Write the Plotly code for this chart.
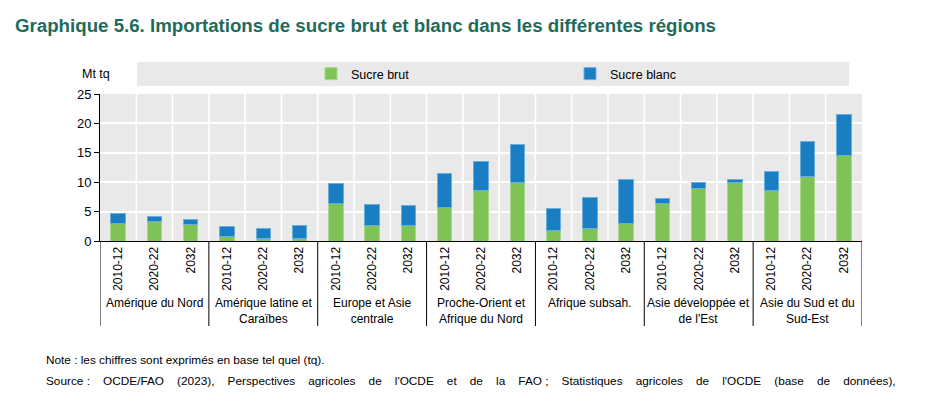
import plotly.graph_objects as go

regions = ["Amérique du Nord", "Amérique latine et<br>Caraïbes", "Europe et Asie<br>centrale",
           "Proche-Orient et<br>Afrique du Nord", "Afrique subsah.", "Asie développée et<br>de l'Est",
           "Asie du Sud et du<br>Sud-Est"]
periods = ["2010-12", "2020-22", "2032"]

sucre_brut = [2.95, 3.3, 2.8,
              0.85, 0.4, 0.5,
              6.4, 2.6, 2.6,
              5.7, 8.6, 9.9,
              1.75, 2.1, 2.9,
              6.4, 8.9, 9.95,
              8.6, 11.0, 14.5]
total = [4.6, 4.1, 3.6,
         2.4, 2.2, 2.7,
         9.7, 6.25, 6.1,
         11.5, 13.6, 16.4,
         5.5, 7.45, 10.5,
         7.15, 9.9, 10.5,
         11.9, 17.0, 21.5]
sucre_blanc = [round(t - b, 2) for t, b in zip(total, sucre_brut)]

n = len(sucre_brut)
xs = list(range(n))
ticktext = [periods[i % 3] for i in range(n)]

FONT = "Liberation Sans, Arial, sans-serif"
GREEN = "#7fc356"
BLUE = "#1a7ec2"
NB = "\u00a0"

# page body adds an 8px offset; work in figure pixels
OFF = 8
W, H = 945 - OFF, 395 - OFF
PT, PB, PL, PR = 94 - OFF, 241 - OFF, 100 - OFF, 862 - OFF
PH, PW = PB - PT, PR - PL

def py(ypix):
    return (PB - (ypix - OFF)) / PH

def px(xpix):
    return ((xpix - OFF) - PL) / PW

fig = go.Figure()
fig.add_trace(go.Bar(x=xs, y=sucre_brut, name="Sucre brut",
                     marker=dict(color=GREEN, line=dict(color="#a9d98c", width=1))))
fig.add_trace(go.Bar(x=xs, y=sucre_blanc, name="Sucre blanc",
                     marker=dict(color=BLUE, line=dict(color="#6aaee0", width=1))))

shapes = []
shapes.append(dict(type="rect", xref="paper", yref="paper", x0=px(137), x1=px(849),
                   y0=py(86), y1=py(62), fillcolor="#e9e9e9", line=dict(width=0), layer="below"))
for i in range(n - 1):
    shapes.append(dict(type="line", xref="x", yref="y", x0=i + 0.5, x1=i + 0.5, y0=0, y1=25,
                       line=dict(color="white", width=1.5), layer="below"))
for g in range(len(regions) + 1):
    xv = g * 3 - 0.5
    shapes.append(dict(type="line", xref="x", yref="paper", x0=xv, x1=xv, y0=0, y1=py(326),
                       line=dict(color="black", width=1)))

annotations = []
for g, r in enumerate(regions):
    annotations.append(dict(x=g * 3 + 1, y=py(294), xref="x", yref="paper", text=r, showarrow=False,
                            yanchor="top", font=dict(size=12, color="black", family=FONT)))
annotations.append(dict(x=px(80), xanchor="left", y=py(74), yanchor="middle", xref="paper", yref="paper",
                        text="Mt tq", showarrow=False, font=dict(size=12.5, color="black", family=FONT)))
annotations.append(dict(x=px(44), xanchor="left", y=py(360), yanchor="middle", xref="paper", yref="paper",
                        text="Note : les chiffres sont exprimés en base tel quel (tq).", showarrow=False,
                        font=dict(size=11.8, color="black", family=FONT)))
src_words = ["Source :", "OCDE/FAO", "(2023),", "Perspectives", "agricoles", "de", "l'OCDE", "et", "de", "la",
             "FAO ;", "Statistiques", "agricoles", "de", "l'OCDE", "(base", "de", "données),"]
src = (NB * 4).join(w.replace(" ", NB) for w in src_words)
annotations.append(dict(x=px(44), xanchor="left", y=py(381), yanchor="middle", xref="paper", yref="paper",
                        text=src, showarrow=False, font=dict(size=11.8, color="black", family=FONT)))

fig.update_layout(
    barmode="stack",
    bargap=0.6,
    width=W, height=H,
    margin=dict(l=PL, r=W - PR, t=PT, b=H - PB, autoexpand=False),
    paper_bgcolor="white",
    plot_bgcolor="#e9e9e9",
    font=dict(family=FONT, size=12, color="black"),
    title=dict(text="<b>Graphique 5.6. Importations de sucre brut et blanc dans les différentes régions</b>",
               x=(15 - OFF) / W, xanchor="left", xref="container", y=1 - (25 - OFF) / H, yanchor="middle",
               yref="container", font=dict(size=18.7, color="#1e6b5c", family=FONT)),
    shapes=shapes,
    annotations=annotations,
    legend=dict(orientation="h", traceorder="normal", x=px(311), xanchor="left", y=py(74), yanchor="middle",
                bgcolor="rgba(0,0,0,0)", entrywidth=214, entrywidthmode="pixels",
                font=dict(size=12.5, family=FONT), itemclick=False),
    xaxis=dict(range=[-0.5, n - 0.5], tickvals=xs, ticktext=ticktext, tickangle=-90, showgrid=False,
               showline=True, linecolor="black", linewidth=1, ticks="", zeroline=False,
               tickfont=dict(size=12, family=FONT), fixedrange=True),
    yaxis=dict(range=[0, 25], tickvals=[0, 5, 10, 15, 20, 25], showgrid=True, gridcolor="white", gridwidth=1.5,
               showline=True, linecolor="black", linewidth=1, ticks="outside", ticklen=5, tickcolor="black",
               zeroline=False, tickfont=dict(size=13, family=FONT), fixedrange=True),
)

fig.write_html("out.html")
